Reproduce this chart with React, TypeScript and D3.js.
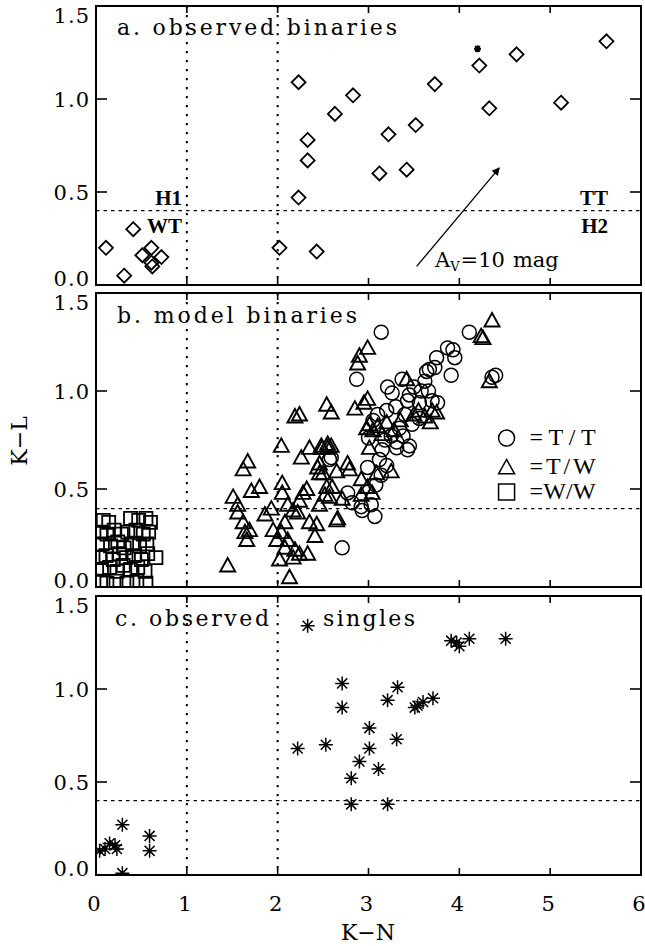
import * as d3 from 'd3'
import React from 'react'

// axis ticks
const xTicks = [0, 1, 2, 3, 4, 5, 6]
const yTicks = [0, 0.5, 1.0, 1.5]
const yTickLabels = ['0.0', '0.5', '1.0', '1.5']
const divX = [1, 2]
const divY = 0.4

// a. observed binaries (K-N, K-L)
const obsBinaries = [
  [0.11, 0.2], [0.41, 0.3], [0.31, 0.05], [0.61, 0.2], [0.51, 0.16], [0.61, 0.12], [0.62, 0.1],
  [0.72, 0.15], [2.02, 0.2], [2.23, 1.09], [2.33, 0.78], [2.33, 0.67], [2.23, 0.47], [2.43, 0.18],
  [2.63, 0.92], [2.83, 1.02], [3.12, 0.6], [3.22, 0.81], [3.42, 0.62], [3.52, 0.86], [3.73, 1.08],
  [4.22, 1.18], [4.33, 0.95], [4.63, 1.24], [5.12, 0.98], [5.62, 1.31],
]
const obsBinaryFlag = [[4.2, 1.27]]
const avArrow = [[3.53, 0.1], [4.44, 0.63]]

// b. model binaries
const modelTT = [
  [2.71, 0.2], [2.82, 0.43], [2.77, 0.48], [2.93, 0.39], [3.07, 0.36], [2.92, 0.41], [3.03, 0.42],
  [3.12, 0.65], [3.14, 0.57], [2.99, 0.61], [2.59, 0.66], [2.57, 0.65], [3.31, 0.71], [3.43, 0.7],
  [3.45, 0.72], [3.31, 0.74], [3.34, 0.81], [3.25, 0.77], [3.18, 0.75], [3.14, 1.3], [2.87, 1.06],
  [3.21, 1.02], [3.26, 0.99], [3.37, 1.06], [3.43, 0.95], [3.45, 0.98], [3.56, 0.94], [3.56, 0.86],
  [3.5, 1.02], [3.58, 1.0], [3.64, 1.1], [3.67, 1.11], [3.73, 1.12], [3.75, 1.17], [3.62, 1.05],
  [3.66, 1.0], [3.7, 0.95], [3.76, 0.94], [3.87, 1.22], [3.93, 1.21], [3.95, 1.17], [3.91, 1.08],
  [4.11, 1.3], [4.36, 1.07], [4.4, 1.08], [3.1, 0.88], [3.2, 0.9], [3.3, 0.92], [3.4, 0.88],
  [3.05, 0.85], [3.15, 0.7], [3.0, 0.76], [3.38, 0.77], [3.48, 0.83], [3.08, 0.52], [3.2, 0.62],
]
const modelTW = [
  [1.45, 0.11], [1.51, 0.46], [1.56, 0.42], [1.56, 0.38], [1.62, 0.33], [1.69, 0.29], [1.64, 0.28],
  [1.66, 0.24], [1.62, 0.6], [1.67, 0.64], [1.71, 0.49], [1.8, 0.51], [1.86, 0.37], [1.93, 0.4],
  [1.95, 0.29], [1.99, 0.24], [2.04, 0.28], [2.02, 0.14], [2.05, 0.53], [2.05, 0.48], [2.04, 0.72],
  [2.08, 0.2], [2.08, 0.33], [2.11, 0.24], [2.11, 0.42], [2.13, 0.05], [2.17, 0.15], [2.17, 0.39],
  [2.19, 0.19], [2.19, 0.87], [2.22, 0.38], [2.24, 0.17], [2.24, 0.44], [2.24, 0.88], [2.26, 0.66],
  [2.28, 0.48], [2.32, 0.5], [2.33, 0.17], [2.35, 0.33], [2.35, 0.71], [2.41, 0.26], [2.43, 0.32],
  [2.44, 0.61], [2.46, 0.42], [2.48, 0.72], [2.5, 0.58], [2.54, 0.51], [2.55, 0.73], [2.57, 0.46],
  [2.54, 0.93], [2.59, 0.89], [2.65, 0.34], [2.46, 0.63], [2.46, 0.58], [2.49, 0.71], [2.55, 0.71],
  [2.59, 0.72], [2.6, 0.51], [2.52, 0.47], [2.65, 0.59], [2.66, 0.35], [2.71, 0.45], [2.77, 0.63],
  [2.79, 0.6], [2.85, 0.91], [2.88, 1.14], [2.9, 1.18], [2.92, 0.47], [2.92, 0.55], [2.95, 0.94],
  [2.99, 0.96], [2.99, 1.22], [2.99, 0.51], [3.01, 0.71], [3.04, 0.48], [3.09, 0.58], [3.25, 0.59],
  [2.98, 0.81], [3.01, 0.83], [3.05, 0.8], [3.1, 0.82], [3.15, 0.78], [3.2, 0.84], [3.28, 0.8],
  [3.35, 0.85], [3.42, 1.06], [3.5, 0.88], [3.55, 0.9], [3.62, 0.87], [3.7, 0.9], [3.75, 0.89],
  [3.68, 0.84], [4.36, 1.36], [4.24, 1.28], [4.26, 1.27], [4.33, 1.05],
]
const modelWW = [
  [0.08, 0.34], [0.14, 0.33], [0.38, 0.35], [0.47, 0.34], [0.55, 0.35], [0.6, 0.33],
  [0.05, 0.28], [0.12, 0.27], [0.2, 0.29], [0.28, 0.27], [0.35, 0.28], [0.44, 0.29], [0.52, 0.27], [0.58, 0.28],
  [0.07, 0.22], [0.16, 0.21], [0.24, 0.23], [0.31, 0.2], [0.4, 0.22], [0.48, 0.21], [0.56, 0.22],
  [0.04, 0.15], [0.11, 0.16], [0.19, 0.14], [0.26, 0.17], [0.33, 0.15], [0.42, 0.16], [0.5, 0.14], [0.57, 0.17], [0.66, 0.15],
  [0.06, 0.09], [0.15, 0.1], [0.23, 0.08], [0.3, 0.11], [0.38, 0.09], [0.46, 0.1], [0.54, 0.08],
  [0.05, 0.03], [0.12, 0.02], [0.22, 0.03], [0.34, 0.02], [0.45, 0.03], [0.55, 0.02],
]

// c. observed singles
const obsSingles = [
  [0.04, 0.13], [0.1, 0.14], [0.15, 0.17], [0.21, 0.16], [0.23, 0.14], [0.29, 0.27], [0.29, 0.01],
  [0.59, 0.21], [0.59, 0.13], [2.22, 0.68], [2.33, 1.34], [2.53, 0.7], [2.71, 1.03], [2.71, 0.9],
  [2.81, 0.52], [2.81, 0.38], [2.9, 0.61], [3.01, 0.79], [3.01, 0.68], [3.11, 0.57], [3.21, 0.38],
  [3.21, 0.94], [3.31, 0.73], [3.32, 1.01], [3.51, 0.9], [3.54, 0.91], [3.6, 0.93], [3.71, 0.95],
  [3.91, 1.26], [3.97, 1.25], [4.0, 1.23], [4.11, 1.27], [4.51, 1.27],
]

const SERIF = '"DejaVu Serif", serif'
const TIMES = '"Liberation Serif", serif'

const x = d3.scaleLinear().domain([0, 6]).range([96, 641])
const panels = [
  { id: 'a', top: 6, bottom: 285 },
  { id: 'b', top: 293, bottom: 587 },
  { id: 'c', top: 596, bottom: 875 },
].map((p) => ({ ...p, y: d3.scaleLinear().domain([0, 1.5]).range([p.bottom, p.top]) }))

const diamond = (cx: number, cy: number, r = 7) =>
  `M${cx},${cy - r}L${cx + r},${cy}L${cx},${cy + r}L${cx - r},${cy}Z`
const triangle = (cx: number, cy: number, r = 7.5) =>
  `M${cx},${cy - r}L${cx + r},${cy + r * 0.8}L${cx - r},${cy + r * 0.8}Z`
const square = (cx: number, cy: number, r = 6.5) =>
  `M${cx - r},${cy - r}H${cx + r}V${cy + r}H${cx - r}Z`
const asterisk = (cx: number, cy: number, r = 7) => {
  const d = r * 0.72
  return `M${cx},${cy - r}V${cy + r}M${cx - r},${cy}H${cx + r}M${cx - d},${cy - d}L${cx + d},${cy + d}M${cx - d},${cy + d}L${cx + d},${cy - d}`
}

const Frame = ({ p, showX }: any) => {
  const x0 = x(0)
  const x1 = x(6)
  return (
    <g>
      {divX.map((v) => (
        <line key={'dx' + v} x1={x(v)} x2={x(v)} y1={p.top} y2={p.bottom} stroke="#000"
          strokeWidth={2} strokeDasharray="2.2,6.8" />
      ))}
      <line x1={x0} x2={x1} y1={p.y(divY)} y2={p.y(divY)} stroke="#000" strokeWidth={1.3}
        strokeDasharray="3.5,4" />
      <rect x={x0} y={p.top} width={x1 - x0} height={p.bottom - p.top} fill="none" stroke="#000"
        strokeWidth={2} />
      {yTicks.map((v) => (
        <g key={'yt' + v}>
          <line x1={x0} x2={x0 + 11} y1={p.y(v)} y2={p.y(v)} stroke="#000" strokeWidth={1.6} />
          <line x1={x1 - 11} x2={x1} y1={p.y(v)} y2={p.y(v)} stroke="#000" strokeWidth={1.6} />
        </g>
      ))}
      {xTicks.slice(1, -1).map((v) => (
        <g key={'xt' + v}>
          <line x1={x(v)} x2={x(v)} y1={p.bottom} y2={p.bottom - 7} stroke="#000" strokeWidth={1.6} />
          <line x1={x(v)} x2={x(v)} y1={p.top} y2={p.top + 7} stroke="#000" strokeWidth={1.6} />
        </g>
      ))}
      {yTicks.map((v, i) => (
        <text key={'yl' + v} x={x0 - 6} y={Math.min(Math.max(p.y(v), p.top + 9), p.bottom - 7)}
          dy="0.36em" textAnchor="end" fontSize={21} letterSpacing={1} fontFamily={SERIF}>
          {yTickLabels[i]}
        </text>
      ))}
      {showX &&
        xTicks.map((v) => (
          <text key={'xl' + v} x={x(v) - 2} y={911} textAnchor="middle" fontSize={21}
            fontFamily={SERIF}>
            {v}
          </text>
        ))}
    </g>
  )
}

export default function App() {
  const [pa, pb, pc] = panels
  const legendX = 4.52
  const legendRows = [
    { y: 0.76, label: '=T/T', shape: 'circle' },
    { y: 0.61, label: '=T/W', shape: 'triangle' },
    { y: 0.485, label: '=W/W', shape: 'square' },
  ]
  return (
    <svg width={645} height={946} style={{ position: 'absolute', left: 0, top: 0, background: '#fff' }}>
      <defs>
        {panels.map((p) => (
          <clipPath key={p.id} id={'clip-' + p.id}>
            <rect x={x(0)} y={p.top} width={x(6) - x(0)} height={p.bottom - p.top} />
          </clipPath>
        ))}
        <marker id="head" viewBox="0 0 10 10" refX="9" refY="5" markerWidth="10" markerHeight="8"
          markerUnits="userSpaceOnUse" orient="auto">
          <path d="M0,0L10,5L0,10Z" fill="#000" />
        </marker>
      </defs>

      {/* panel a */}
      <Frame p={pa} />
      <g clipPath="url(#clip-a)" fill="none" stroke="#000" strokeWidth={1.8}>
        {obsBinaries.map((d, i) => (
          <path key={i} d={diamond(x(d[0]), pa.y(d[1]))} />
        ))}
        {obsBinaryFlag.map((d, i) => (
          <path key={'f' + i} d={asterisk(x(d[0]), pa.y(d[1]), 3.5)} strokeWidth={1.8} />
        ))}
        <line x1={x(avArrow[0][0])} y1={pa.y(avArrow[0][1])} x2={x(avArrow[1][0])}
          y2={pa.y(avArrow[1][1])} strokeWidth={1.3} markerEnd="url(#head)" />
      </g>
      <text x={117} y={35} fontSize={22} fontFamily={SERIF} textLength={280} lengthAdjust="spacing">
        a. observed binaries
      </text>
      <text x={182} y={205} fontSize={21} fontWeight="bold" fontFamily={TIMES} textAnchor="end">H1</text>
      <text x={182} y={233} fontSize={21} fontWeight="bold" fontFamily={TIMES} textAnchor="end">WT</text>
      <text x={608} y={205} fontSize={21} fontWeight="bold" fontFamily={TIMES} textAnchor="end">TT</text>
      <text x={608} y={233} fontSize={21} fontWeight="bold" fontFamily={TIMES} textAnchor="end">H2</text>
      <text x={435} y={267} fontSize={21} fontFamily={SERIF}>
        A<tspan fontSize={13} dy={4}>V</tspan>
        <tspan dy={-4} dx={1}>=10</tspan>
        <tspan dx={8}>mag</tspan>
      </text>

      {/* panel b */}
      <Frame p={pb} />
      <g clipPath="url(#clip-b)" fill="none" stroke="#000">
        {modelWW.map((d, i) => (
          <path key={'w' + i} d={square(x(d[0]), pb.y(d[1]))} strokeWidth={1.8} />
        ))}
        {modelTW.map((d, i) => (
          <path key={'t' + i} d={triangle(x(d[0]), pb.y(d[1]))} strokeWidth={1.9} />
        ))}
        {modelTT.map((d, i) => (
          <circle key={'c' + i} cx={x(d[0])} cy={pb.y(d[1])} r={7} strokeWidth={1.5} />
        ))}
      </g>
      <text x={117} y={323} fontSize={22} fontFamily={SERIF} textLength={240} lengthAdjust="spacing">
        b. model binaries
      </text>
      {legendRows.map((r) => {
        const cx = x(legendX)
        const cy = pb.y(r.y)
        return (
          <g key={r.label}>
            {r.shape === 'circle' && <circle cx={cx} cy={cy} r={8} fill="none" stroke="#000" strokeWidth={1.5} />}
            {r.shape === 'triangle' && <path d={triangle(cx, cy, 8)} fill="none" stroke="#000" strokeWidth={1.5} />}
            {r.shape === 'square' && <path d={square(cx, cy, 8)} fill="none" stroke="#000" strokeWidth={1.5} />}
            <text x={cx + 23} y={cy + 7} fontSize={24} fontFamily={TIMES} textLength={66}
              lengthAdjust="spacing">
              {r.label}
            </text>
          </g>
        )
      })}
      <text transform={`translate(27,441) rotate(-90)`} textAnchor="middle" fontSize={22}
        fontFamily={SERIF}>
        K−L
      </text>

      {/* panel c */}
      <Frame p={pc} showX />
      <g clipPath="url(#clip-c)" fill="none" stroke="#000" strokeWidth={1.5}>
        {obsSingles.map((d, i) => (
          <path key={i} d={asterisk(x(d[0]), pc.y(d[1]))} />
        ))}
      </g>
      <text x={115} y={626} fontSize={22} fontFamily={SERIF} textLength={154} lengthAdjust="spacing">
        c. observed
      </text>
      <text x={323} y={626} fontSize={22} fontFamily={SERIF} textLength={92} lengthAdjust="spacing">
        singles
      </text>
      <text x={368} y={940} textAnchor="middle" fontSize={22} fontFamily={SERIF}>
        K−N
      </text>
    </svg>
  )
}
